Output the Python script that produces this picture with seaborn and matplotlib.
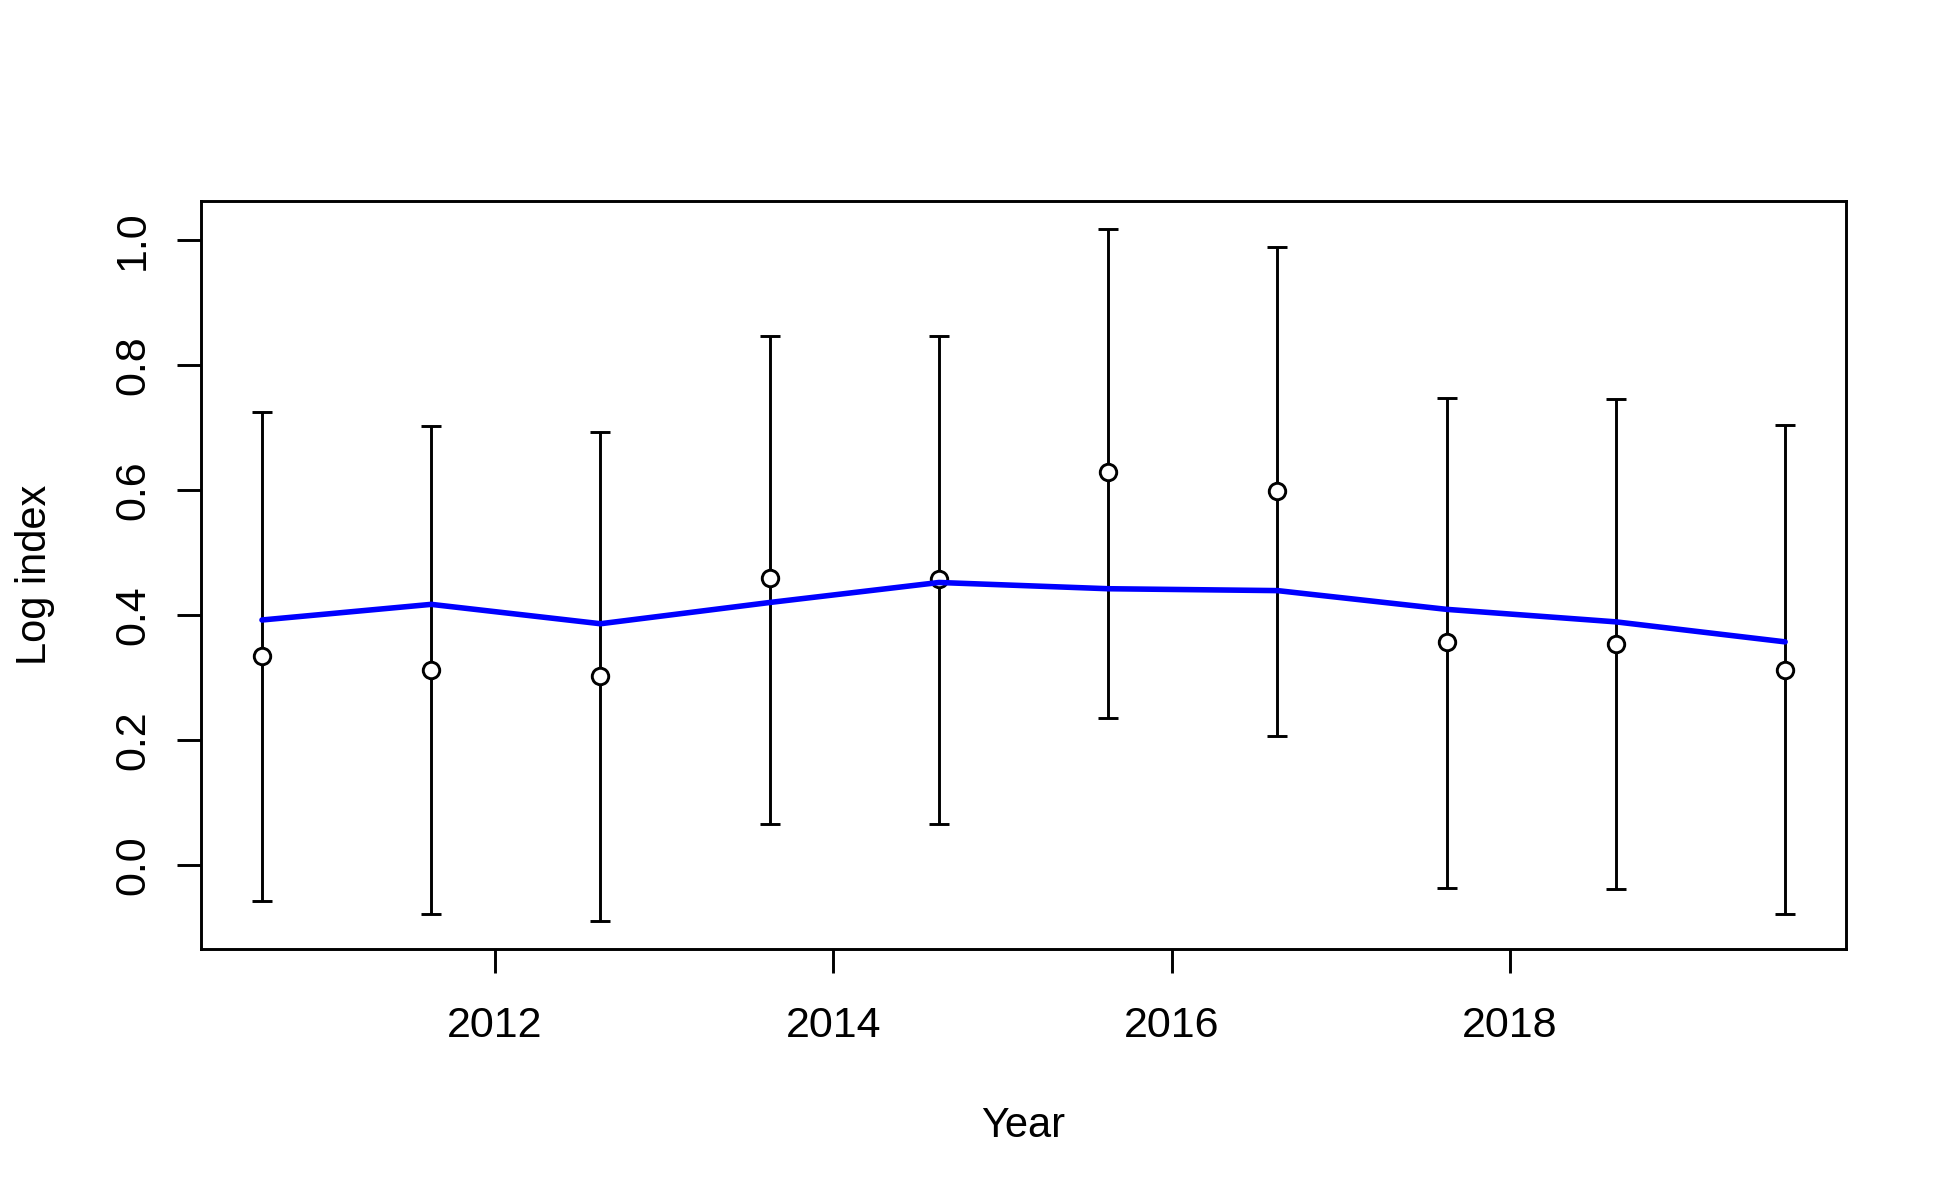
import matplotlib
matplotlib.use("Agg")
import matplotlib.pyplot as plt
import seaborn as sns
import pandas as pd

# values
years = [2010.625, 2011.625, 2012.625, 2013.625, 2014.625,
         2015.625, 2016.625, 2017.625, 2018.625, 2019.625]
log_index = [0.334, 0.312, 0.303, 0.459, 0.457, 0.628, 0.599, 0.356, 0.354, 0.312]
lower = [-0.058, -0.079, -0.090, 0.066, 0.066, 0.235, 0.206, -0.036, -0.038, -0.079]
upper = [0.725, 0.703, 0.693, 0.847, 0.847, 1.018, 0.989, 0.747, 0.745, 0.704]
fitted = [0.392, 0.417, 0.386, 0.420, 0.452, 0.442, 0.439, 0.409, 0.389, 0.357]

x_ticks = [2012, 2014, 2016, 2018]
y_ticks = [0.0, 0.2, 0.4, 0.6, 0.8, 1.0]

df = pd.DataFrame({"year": years, "index": log_index, "lower": lower,
                   "upper": upper, "fit": fitted})

sns.set_theme(style="white")
plt.rcParams["font.family"] = ["Liberation Sans", "DejaVu Sans"]
plt.rcParams["text.color"] = "black"
plt.rcParams["axes.labelcolor"] = "black"

LW = 2.1  # R lwd=1 at this resolution

fig = plt.figure(figsize=(19.5, 12), dpi=100)
ax = fig.add_axes([0.1031, 0.2092, 0.8436, 0.6233])

# confidence intervals
yerr = [df["index"] - df["lower"], df["upper"] - df["index"]]
ax.errorbar(df["year"], df["index"], yerr=yerr, fmt="none", ecolor="black",
            elinewidth=LW, capsize=7.2, capthick=LW, zorder=2)

# observed points (open circles)
sns.scatterplot(data=df, x="year", y="index", ax=ax, marker="o", s=140,
                color="white", edgecolor="black", linewidth=LW, zorder=3,
                legend=False)

# fitted line
sns.lineplot(data=df, x="year", y="fit", ax=ax, color="blue", linewidth=4.0,
             zorder=4, legend=False)

# R style axis ranges (4% padding)
xpad = (max(years) - min(years)) * 0.04
ax.set_xlim(min(years) - xpad, max(years) + xpad)
ypad = (max(upper) - min(lower)) * 0.04
ax.set_ylim(min(lower) - ypad, max(upper) + ypad)

ax.set_xticks(x_ticks)
ax.set_xticklabels([str(t) for t in x_ticks])
ax.set_yticks(y_ticks)
ax.set_yticklabels([f"{t:.1f}" for t in y_ticks])

ax.tick_params(axis="x", length=17.3, width=LW, pad=24, labelsize=31,
               colors="black", bottom=True)
ax.tick_params(axis="y", length=17.3, width=LW, pad=23.8, labelsize=31,
               colors="black", left=True)
for lbl in ax.get_yticklabels():
    lbl.set_rotation(90)
    lbl.set_rotation_mode("anchor")
    lbl.set_ha("center")
    lbl.set_va("baseline")

for sp in ax.spines.values():
    sp.set_visible(True)
    sp.set_color("black")
    sp.set_linewidth(LW)

ax.set_xlabel("Year", fontsize=30, color="black")
ax.xaxis.set_label_coords(0.5, -0.2509)
ax.xaxis.label.set_va("baseline")
ax.set_ylabel("Log index", fontsize=30, color="black")
ax.yaxis.set_label_coords(-0.0942, 0.5)
ax.yaxis.label.set_va("baseline")
ax.yaxis.label.set_rotation_mode("anchor")

fig.savefig("out.png", dpi=100, facecolor="white")
